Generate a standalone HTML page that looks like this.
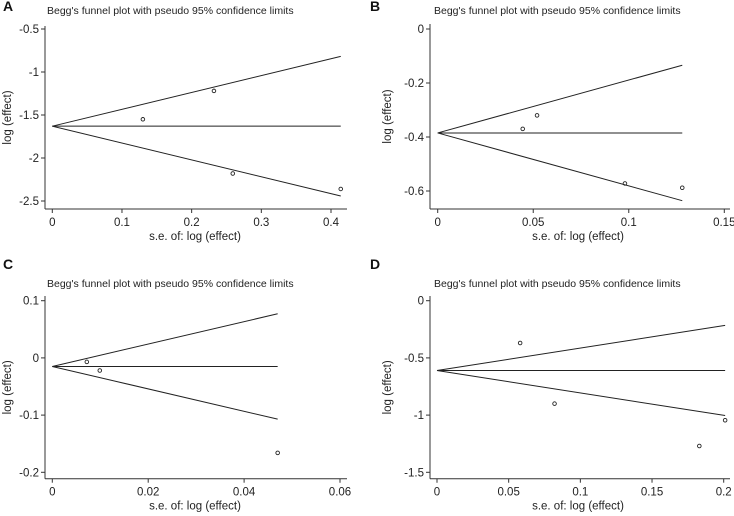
<!DOCTYPE html>
<html><head><meta charset="utf-8"><style>
body{margin:0;background:#fff;}
svg{display:block;font-family:"Liberation Sans","DejaVu Sans",sans-serif;}
</style></head><body>
<svg id="chart" width="734" height="516" viewBox="0 0 734 516"></svg>
<script>
// Panel A data
const aSe=[0.13,0.232,0.259,0.414];
const aEff=[-1.55,-1.22,-2.18,-2.36];
const aPooled=[-1.63];
const aXTicks=[0,0.1,0.2,0.3,0.4];
const aXLabels=["0","0.1","0.2","0.3","0.4"];
const aYTicks=[-0.5,-1,-1.5,-2,-2.5];
const aYLabels=["-0.5","-1","-1.5","-2","-2.5"];
// Panel B data
const bSe=[0.0445,0.052,0.098,0.128];
const bEff=[-0.37,-0.32,-0.572,-0.588];
const bPooled=[-0.385];
const bXTicks=[0,0.05,0.1,0.15];
const bXLabels=["0","0.05","0.1","0.15"];
const bYTicks=[0,-0.2,-0.4,-0.6];
const bYLabels=["0","-0.2","-0.4","-0.6"];
// Panel C data
const cSe=[0.0072,0.0099,0.047];
const cEff=[-0.007,-0.022,-0.166];
const cPooled=[-0.015];
const cXTicks=[0,0.02,0.04,0.06];
const cXLabels=["0","0.02","0.04","0.06"];
const cYTicks=[0.1,0,-0.1,-0.2];
const cYLabels=["0.1","0","-0.1","-0.2"];
// Panel D data
const dSe=[0.058,0.082,0.183,0.201];
const dEff=[-0.37,-0.9,-1.27,-1.045];
const dPooled=[-0.61];
const dXTicks=[0,0.05,0.1,0.15,0.2];
const dXLabels=["0","0.05","0.1","0.15","0.2"];
const dYTicks=[0,-0.5,-1,-1.5];
const dYLabels=["0","-0.5","-1","-1.5"];

const svg=document.getElementById('chart');
const NS='http://www.w3.org/2000/svg';
function mk(tag,attrs,parent,text){const e=document.createElementNS(NS,tag);for(const k in attrs)e.setAttribute(k,attrs[k]);if(text!==undefined)e.textContent=text;parent.appendChild(e);return e;}

function panel(o){
  const g=mk('g',{},svg);
  
  
  const x=v=>o.x0+(v-o.xd0)/(o.xd1-o.xd0)*(o.x1-o.x0);
  const y=v=>o.y0+(v-o.yd0)/(o.yd1-o.yd0)*(o.y1-o.y0);
  let t=mk('text',{x:o.ox+3,y:o.oy+11,'font-size':14,'font-weight':'bold',fill:'#111'},g,o.letter);
  
  
  t=mk('text',{x:o.ox+47+(o.letter==='B'||o.letter==='D'?20:0),y:o.oy+o.titleY,'font-size':10.5,fill:'#222'},g,"Begg's funnel plot with pseudo 95% confidence limits");
  
  
  // axes
  let a=mk('line',{x1:o.ax,y1:o.axTop,x2:o.ax,y2:o.axY,stroke:'#333','stroke-width':1},g);
  
  
  a=mk('line',{x1:o.ax,y1:o.axY,x2:o.axR,y2:o.axY,stroke:'#333','stroke-width':1},g);
  
  
  o.yt.forEach((v,i)=>{
    mk('line',{x1:o.ax-4,y1:y(v),x2:o.ax,y2:y(v),stroke:'#333'},g);
    const tl=mk('text',{x:o.ax-6,y:y(v)+4,'font-size':11.5,'text-anchor':'end',fill:'#222'},g,o.yl[i]);
    
    
  });
  o.xt.forEach((v,i)=>{
    mk('line',{x1:x(v),y1:o.axY,x2:x(v),y2:o.axY+4,stroke:'#333'},g);
    const tl=mk('text',{x:x(v),y:o.axY+17,'font-size':11.5,'text-anchor':'middle',fill:'#222'},g,o.xl[i]);
    
    
  });
  t=mk('text',{x:o.ox+195+(o.letter==='B'||o.letter==='D'?16:0),y:o.axY+31,'font-size':11.5,'text-anchor':'middle',fill:'#222'},g,'s.e. of: log (effect)');
  
  
  const ty=(o.axTop+o.axY)/2;
  const tx=o.ox+11+(o.letter==='B'||o.letter==='D'?13:0);
  t=mk('text',{x:tx,y:ty,'font-size':11.5,'text-anchor':'middle',fill:'#222',transform:`rotate(-90 ${tx} ${ty})`},g,'log (effect)');
  
  
  // funnel
  const p=o.pooled[0];
  const smax=Math.max(...o.se);
  const up=p+1.96*smax, lo=p-1.96*smax;
  let l=mk('line',{x1:x(0),y1:y(p),x2:x(smax),y2:y(p),stroke:'#222','stroke-width':1},g);
  
  
  l=mk('line',{x1:x(0),y1:y(p),x2:x(smax),y2:y(up),stroke:'#222','stroke-width':1},g);
  
  
  l=mk('line',{x1:x(0),y1:y(p),x2:x(smax),y2:y(lo),stroke:'#222','stroke-width':1},g);
  
  
  o.se.forEach((s,i)=>{
    const c=mk('circle',{cx:x(s),cy:y(o.eff[i]),r:1.8,fill:'none',stroke:'#222','stroke-width':0.9},g);
    
    
  });
}
panel({letter:'A',ox:0,oy:0,titleY:14,se:aSe,eff:aEff,pooled:aPooled,xt:aXTicks,xl:aXLabels,yt:aYTicks,yl:aYLabels,
  x0:52.3,x1:331,xd0:0,xd1:0.4,y0:29,y1:201,yd0:-0.5,yd1:-2.5,ax:45,axTop:26,axY:209,axR:347});
panel({letter:'B',ox:367,oy:0,titleY:14,se:bSe,eff:bEff,pooled:bPooled,xt:bXTicks,xl:bXLabels,yt:bYTicks,yl:bYLabels,
  x0:437.7,x1:724.3,xd0:0,xd1:0.15,y0:29,y1:191,yd0:0,yd1:-0.6,ax:430,axTop:24,axY:209,axR:730});
panel({letter:'C',ox:0,oy:258,titleY:29,se:cSe,eff:cEff,pooled:cPooled,xt:cXTicks,xl:cXLabels,yt:cYTicks,yl:cYLabels,
  x0:52.3,x1:340,xd0:0,xd1:0.06,y0:300.7,y1:472.3,yd0:0.1,yd1:-0.2,ax:45,axTop:296,axY:478.7,axR:347});
panel({letter:'D',ox:367,oy:258,titleY:29,se:dSe,eff:dEff,pooled:dPooled,xt:dXTicks,xl:dXLabels,yt:dYTicks,yl:dYLabels,
  x0:437,x1:723.7,xd0:0,xd1:0.2,y0:300.7,y1:472.3,yd0:0,yd1:-1.5,ax:430,axTop:296,axY:478.7,axR:730});
</script>
</body></html>
